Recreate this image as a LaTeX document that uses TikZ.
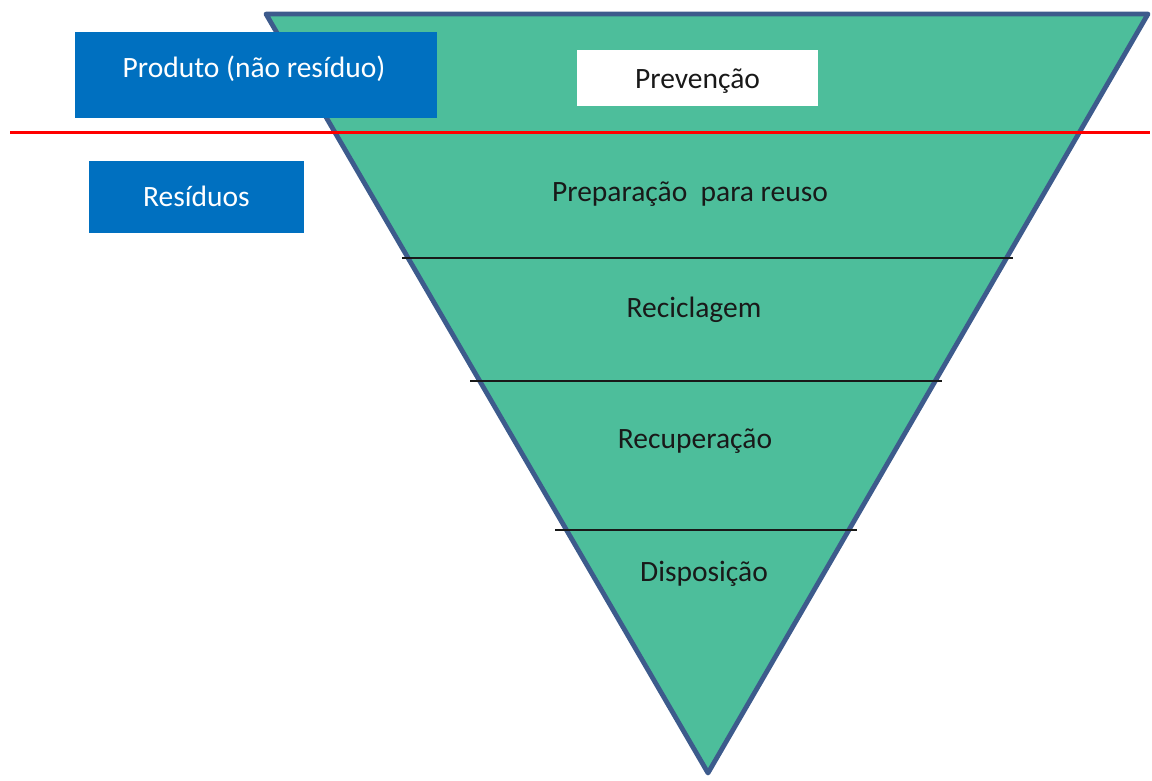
\documentclass[tikz,border=0pt]{standalone}
\usepackage{fontspec}
\setmainfont{Carlito}
\begin{document}
\begin{tikzpicture}[x=1pt,y=-1pt,
  every node/.style={font=\fontsize{29.5}{34}\selectfont},
  tierline/.style={draw=black!90,line width=1.6pt},
  bluebox/.style={fill=boxblue,draw=none,inner sep=0pt},
  whitelabel/.style={text=white},
  tiertext/.style={text=black!90}]
\definecolor{funnelgreen}{HTML}{4DBE9B}
\definecolor{funneledge}{HTML}{3D5B8C}
\definecolor{boxblue}{HTML}{0070C0}
\useasboundingbox (0,0) rectangle (1152,780);

% funnel
\coordinate (tl) at (266,14);
\coordinate (tr) at (1148,14);
\coordinate (tip) at (708,773);
\filldraw[fill=funnelgreen,draw=funneledge,line width=4.8pt,line join=round]
  (tl) -- (tr) -- (tip) -- cycle;

% tier separators
\coordinate (s1l) at (402,258); \coordinate (s1r) at (1013,258);
\coordinate (s2l) at (470,381); \coordinate (s2r) at (942,381);
\coordinate (s3l) at (555,530); \coordinate (s3r) at (857,530);
\draw[tierline] (s1l) -- (s1r);
\draw[tierline] (s2l) -- (s2r);
\draw[tierline] (s3l) -- (s3r);

% product / waste boundary
\coordinate (rl) at (10,132);
\coordinate (rr) at (1150,132);
\draw[red,line width=3pt] (rl) -- (rr);

% side boxes
\node[bluebox,minimum width=362pt,minimum height=86pt] (produtobox) at (256,75) {};
\node[whitelabel] (produto) at (254,69) {Produto (não resíduo)};
\node[bluebox,minimum width=215pt,minimum height=72pt] (residuosbox) at (196.5,197) {};
\node[whitelabel] (residuos) at (196.5,196) {Resíduos};

% prevention label
\node[fill=white,minimum width=241pt,minimum height=56pt,inner sep=0pt] (prevencaobox) at (697.5,78) {};
\node[tiertext] (prevencao) at (697.5,81) {Prevenção};

% tier labels
\node[tiertext] (reuso) at (690,194) {Preparação\ \ para reuso};
\node[tiertext] (reciclagem) at (694,310) {Reciclagem};
\node[tiertext] (recuperacao) at (695,441) {Recuperação};
\node[tiertext] (disposicao) at (704,574) {Disposição};
\end{tikzpicture}
\end{document}
